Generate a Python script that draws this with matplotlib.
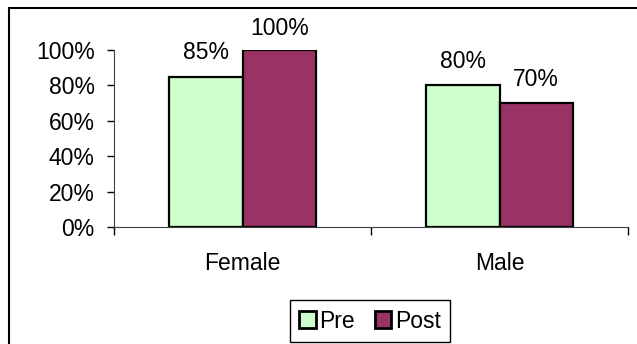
import matplotlib
matplotlib.use('Agg')
import matplotlib.pyplot as plt
from matplotlib.patches import Rectangle
import numpy as np

plt.rcParams['font.family'] = ['Liberation Sans', 'DejaVu Sans']

groups = ['Female', 'Male']
pre = [0.85, 0.80]
post = [1.00, 0.70]
pre_color = '#CCFFCC'
post_color = '#993366'
fs = 16.5

fig = plt.figure(figsize=(6.37, 3.44), dpi=100)
ax = fig.add_axes([114 / 637, 1 - 227 / 344, (628 - 114) / 637, (227 - 50) / 344])

# outer chart frame (only top and left edges fall inside the image)
fig.patches.append(Rectangle((9 / 637, -0.2), 1.2, 1.2 - 8 / 344, transform=fig.transFigure,
                             fill=False, edgecolor='black', linewidth=1.5))

pos = np.arange(len(groups))
w = 1 / 3.5
b1 = ax.bar(pos - w / 2, pre, width=w, color=pre_color, edgecolor='black', linewidth=1.6, label='Pre')
b2 = ax.bar(pos + w / 2, post, width=w, color=post_color, edgecolor='black', linewidth=1.6, label='Post')

for bars, vals in ((b1, pre), (b2, post)):
    for rect, v in zip(bars, vals):
        off = 10.5 if v >= 1 else 12.5
        ax.annotate('%d%%' % round(v * 100), (rect.get_x() + rect.get_width() / 2, v),
                    xytext=(0, off), textcoords='offset points', ha='center', va='baseline',
                    fontsize=fs, annotation_clip=False)

ax.set_xlim(-0.5, len(groups) - 0.5)
ax.set_ylim(0, 1)
ax.set_yticks(np.arange(0, 1.01, 0.2))
ax.set_yticklabels(['%d%%' % round(t * 100) for t in np.arange(0, 1.01, 0.2)], fontsize=fs)
ax.set_xticks(pos)
ax.set_xticklabels(groups, fontsize=fs)
ax.set_xticks(np.arange(-0.5, len(groups), 1.0), minor=True)
ax.tick_params(axis='x', which='major', length=0, pad=18)
ax.tick_params(axis='x', which='minor', length=6, width=1, direction='out')
ax.tick_params(axis='y', length=5, width=1, direction='out', pad=9)

for s in ('top', 'right'):
    ax.spines[s].set_visible(False)
ax.spines['left'].set_color('#404040')
ax.spines['bottom'].set_color('#404040')

leg = fig.legend(handles=[b1, b2], loc='center', bbox_to_anchor=(370 / 637, 1 - 321 / 344),
                 ncol=2, fontsize=fs, frameon=True, fancybox=False, edgecolor='black', framealpha=1,
                 handlelength=0.7, handleheight=0.7, handletextpad=0.15, columnspacing=0.9,
                 borderpad=0.4, borderaxespad=0)
for p in leg.get_patches():
    p.set_linewidth(2)

fig.savefig('out.png', dpi=100)
